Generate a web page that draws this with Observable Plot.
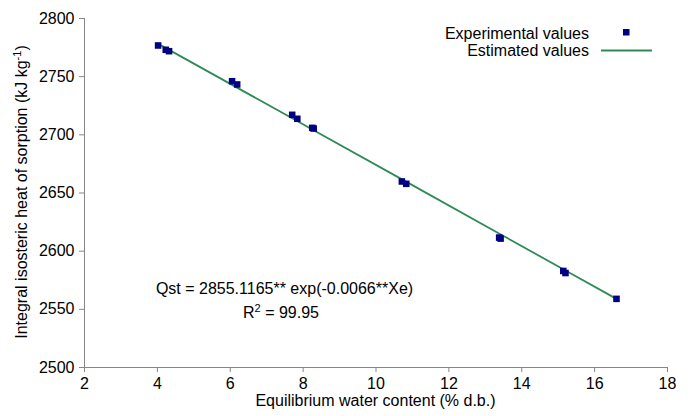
<!DOCTYPE html>
<html><head><meta charset="utf-8">
<script src="https://cdn.jsdelivr.net/npm/d3@7"></script>
<script src="https://cdn.jsdelivr.net/npm/@observablehq/plot@0.6"></script>
<style>body{margin:0;background:#fff}</style>
</head><body><div id="chart"></div>
<script>
// Experimental values (Xe, Qst)
const expX = [4.02, 4.23, 4.32, 6.05, 6.19, 7.70, 7.84, 8.25, 8.29, 10.71, 10.83, 13.38, 13.42, 15.14, 15.20, 16.60];
const expY = [2776.8, 2773.1, 2771.9, 2746.1, 2743.3, 2717.2, 2713.8, 2706.0, 2705.4, 2659.9, 2657.9, 2611.7, 2610.8, 2583.0, 2581.2, 2559.0];
// Estimated values
const estX = [4.0, 6.1, 7.8, 8.3, 10.8, 13.4, 15.2, 16.6];
const estY = [2778.6, 2742.1, 2712.5, 2703.8, 2660.2, 2614.8, 2583.4, 2559.0];
const xTicks = [2, 4, 6, 8, 10, 12, 14, 16, 18];
const yTicks = [2500, 2550, 2600, 2650, 2700, 2750, 2800];
const seriesNames = ["Experimental values", "Estimated values"];
const equation = "Qst = 2855.1165** exp(-0.0066**Xe)";

const expData = expX.map((x, i) => ({x, y: expY[i]}));
const estData = estX.map((x, i) => ({x, y: estY[i]}));

const axisColor = "#868686";
const dotColor = "#000080";
const lineColor = "#2E8B57";
const font = "'Liberation Sans', Arial, sans-serif";

const chart = Plot.plot({
  width: 690, height: 416,
  marginLeft: 84, marginRight: 23, marginTop: 18, marginBottom: 49,
  style: {fontFamily: font, fontSize: "16px", background: "#fff", color: "#000"},
  x: {domain: [2, 18]},
  y: {domain: [2500, 2800]},
  marks: [
    Plot.ruleX([2], {stroke: axisColor, strokeWidth: 1}),
    Plot.ruleY([2500], {stroke: axisColor, strokeWidth: 1}),
    Plot.axisX({ticks: xTicks, tickSize: 5, tickPadding: 5, stroke: axisColor, fill: "#000", label: null, fontSize: 16, tickFormat: d => String(d)}),
    Plot.axisY({ticks: yTicks, tickSize: 5, tickPadding: 5, stroke: axisColor, fill: "#000", label: null, fontSize: 16, tickFormat: d => String(d)}),
    Plot.line(estData, {x: "x", y: "y", stroke: lineColor, strokeWidth: 1.8}),
    Plot.dot(expData, {x: "x", y: "y", symbol: "square", r: 3.7, fill: dotColor, stroke: null})
  ]
});
document.getElementById("chart").appendChild(chart);

const svg = d3.select(chart);
// x label
svg.append("text").attr("x", 375.5).attr("y", 406).attr("text-anchor", "middle")
  .attr("font-family", font).attr("font-size", 16).attr("fill", "#000")
  .text("Equilibrium water content (% d.b.)");
// y label with superscript
const yl = svg.append("text").attr("transform", "translate(27,192) rotate(-90)")
  .attr("text-anchor", "middle").attr("font-family", font).attr("font-size", 16).attr("fill", "#000");
yl.append("tspan").text("Integral isosteric heat of sorption (kJ kg");
yl.append("tspan").attr("font-size", 11).attr("dy", -6).text("-1");
yl.append("tspan").attr("dy", 6).text(")");

// legend
const lg = svg.append("g").attr("font-family", font).attr("font-size", 16).attr("fill", "#000");
lg.append("text").attr("x", 589).attr("y", 38.5).attr("text-anchor", "end").text(seriesNames[0]);
lg.append("rect").attr("x", 623).attr("y", 29).attr("width", 6.5).attr("height", 6.5).attr("fill", dotColor);
lg.append("text").attr("x", 589).attr("y", 56).attr("text-anchor", "end").text(seriesNames[1]);
lg.append("line").attr("x1", 601).attr("x2", 652).attr("y1", 50.5).attr("y2", 50.5).attr("stroke", lineColor).attr("stroke-width", 1.8);

// equation annotation
const an = svg.append("g").attr("font-family", font).attr("font-size", 16).attr("fill", "#000").attr("text-anchor", "middle");
an.append("text").attr("x", 284.5).attr("y", 294).text(equation);
const r2 = an.append("text").attr("x", 281).attr("y", 318);
r2.append("tspan").text("R");
r2.append("tspan").attr("font-size", 11).attr("dy", -6).text("2");
r2.append("tspan").attr("dy", 6).text(" = 99.95");
</script>
</body></html>
